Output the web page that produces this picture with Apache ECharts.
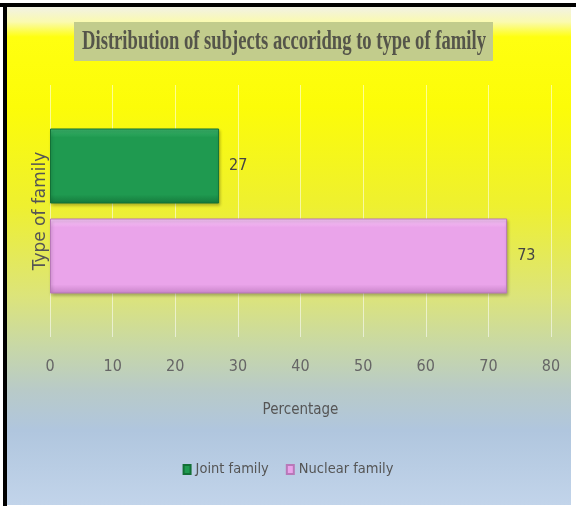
<!DOCTYPE html>
<html>
<head>
<meta charset="utf-8">
<script src="https://cdn.jsdelivr.net/npm/echarts@6/dist/echarts.min.js"></script>
<style>
html,body{margin:0;padding:0;background:#fff;}
#chart{width:576px;height:506px;}
</style>
</head>
<body>
<div id="chart"></div>
<script>
const titleText = 'Distribution of subjects accoridng to type of family';
const categories = ['Type of family'];
const seriesNames = ['Joint family', 'Nuclear family'];
const jointValues = [27];
const nuclearValues = [73];
const xTicks = [0, 10, 20, 30, 40, 50, 60, 70, 80];
const xAxisName = 'Percentage';
const yAxisName = 'Type of family';

const chart = echarts.init(document.getElementById('chart'), null, {renderer: 'canvas'});
const narrow = "'DejaVu Sans Condensed', 'Liberation Sans Narrow', sans-serif";

function barStyle(c1, c2, c3, border) {
  return {
    color: new echarts.graphic.LinearGradient(0, 0, 0, 1, [
      {offset: 0, color: c1}, {offset: 0.12, color: c2}, {offset: 0.88, color: c2}, {offset: 1, color: c3}
    ]),
    borderColor: border,
    borderWidth: 1,
    shadowColor: 'rgba(0,0,0,0.25)',
    shadowBlur: 3,
    shadowOffsetX: 1,
    shadowOffsetY: 2
  };
}

const option = {
  backgroundColor: '#ffffff',
  animation: false,
  graphic: [
    {type: 'rect', z: -10, silent: true, shape: {x: 7, y: 7, width: 564, height: 498},
      style: {fill: new echarts.graphic.LinearGradient(0, 0, 0, 1, [
        {offset: 0.0, color: '#f2f2e4'},
        {offset: 0.03, color: '#fafab0'},
        {offset: 0.06, color: '#ffff10'},
        {offset: 0.2, color: '#fcfc08'},
        {offset: 0.4, color: '#eef030'},
        {offset: 0.58, color: '#dce47a'},
        {offset: 0.68, color: '#c8d8a6'},
        {offset: 0.77, color: '#b8cac8'},
        {offset: 0.85, color: '#b0c6de'},
        {offset: 1.0, color: '#c2d4ea'}
      ])}},
    {type: 'rect', z: 10, silent: true, shape: {x: 0, y: 3, width: 576, height: 4}, style: {fill: '#000'}},
    {type: 'rect', z: 10, silent: true, shape: {x: 3, y: 3, width: 4, height: 503}, style: {fill: '#000'}},
    {type: 'rect', z: 5, silent: true, shape: {x: 74, y: 22, width: 419, height: 39}, style: {fill: '#c2cc8c'}},
    {type: 'text', z: 6, silent: true, x: 284, y: 42, scaleX: 0.665, originX: 0, originY: 0,
      style: {text: titleText, fill: '#55554a', font: "bold 28px 'Liberation Serif', 'Times New Roman', serif",
        textAlign: 'center', textVerticalAlign: 'middle'}}
  ],
  grid: {left: 50, right: 25, top: 85, bottom: 169, containLabel: false},
  legend: {
    bottom: 24, left: 'center', itemWidth: 7, itemHeight: 9, itemGap: 17, icon: 'rect',
    textStyle: {color: '#555', fontSize: 14.5, fontFamily: narrow},
    data: seriesNames
  },
  xAxis: {
    type: 'value', min: xTicks[0], max: xTicks[xTicks.length - 1], interval: 10,
    name: xAxisName, nameLocation: 'middle', nameGap: 66,
    nameTextStyle: {color: '#555', fontSize: 15, fontFamily: narrow},
    axisLine: {show: false}, axisTick: {show: false},
    axisLabel: {color: '#666', fontSize: 16, fontFamily: narrow, margin: 22},
    splitLine: {show: true, lineStyle: {color: 'rgba(255,255,255,0.55)', width: 1}}
  },
  yAxis: {
    type: 'category', data: categories, inverse: true,
    name: yAxisName, nameLocation: 'middle', nameGap: 1, nameRotate: 90,
    nameTextStyle: {color: '#555', fontSize: 17, fontFamily: "'DejaVu Sans', sans-serif"},
    axisLine: {show: false}, axisTick: {show: false}, axisLabel: {show: false},
    splitLine: {show: false}
  },
  series: [
    {name: seriesNames[0], type: 'bar', data: jointValues, barWidth: 75, barGap: '20%',
      itemStyle: barStyle('#3cb46c', '#1f9a50', '#157a3c', '#137036'),
      label: {show: true, position: 'right', distance: 10, color: '#444', fontSize: 16, fontFamily: narrow}},
    {name: seriesNames[1], type: 'bar', data: nuclearValues, barWidth: 75, barGap: '20%',
      itemStyle: barStyle('#f6c6f6', '#eaa4ea', '#c884c8', '#b878b8'),
      label: {show: true, position: 'right', distance: 10, color: '#444', fontSize: 16, fontFamily: narrow}}
  ]
};
chart.setOption(option);
</script>
</body>
</html>
